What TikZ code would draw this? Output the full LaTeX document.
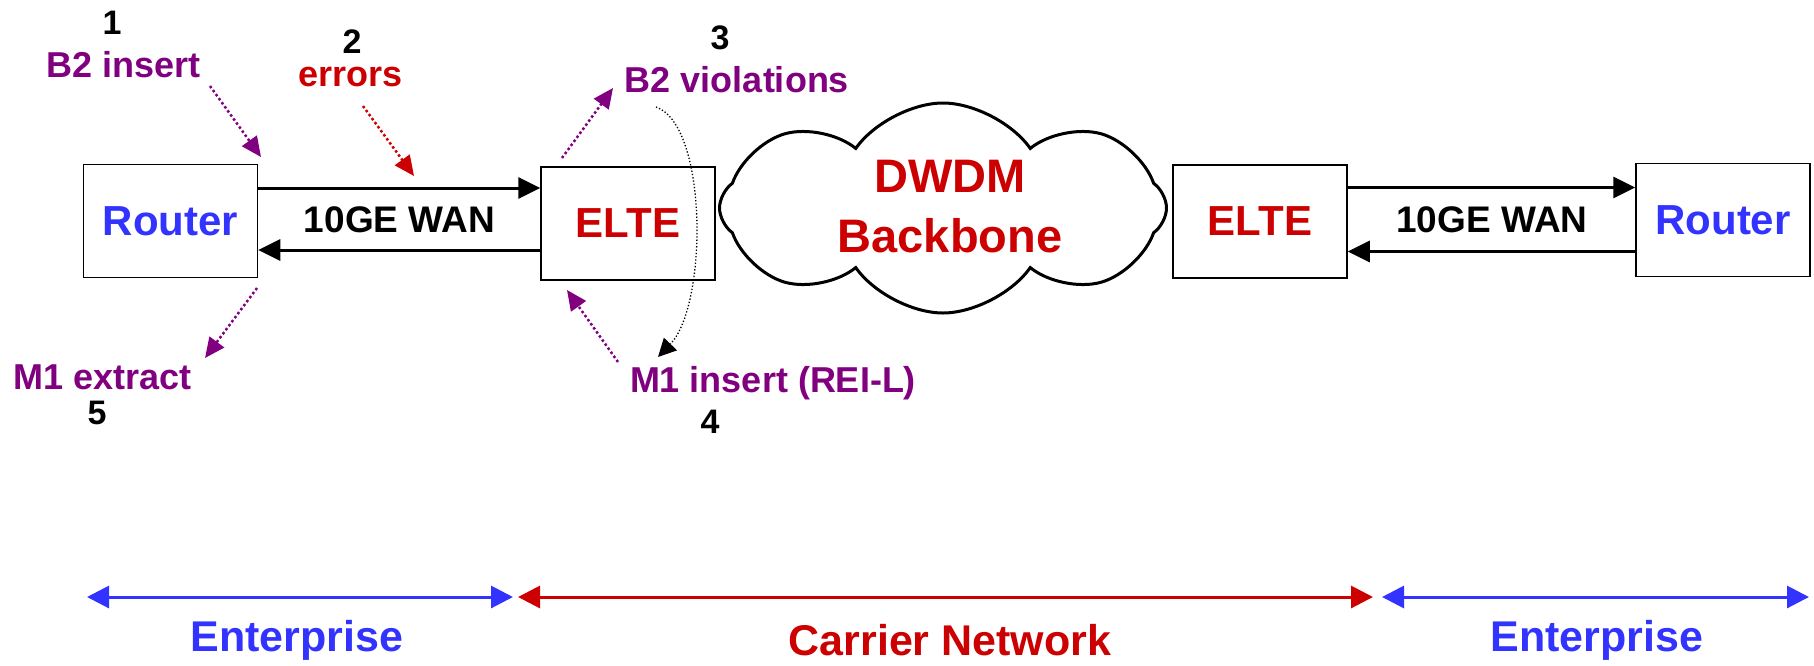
\documentclass[tikz,border=0pt]{standalone}
\usepackage{fontspec}
\setmainfont{Liberation Sans}
\usepackage{xcolor}
\usetikzlibrary{arrows.meta,shapes.symbols}
\definecolor{rtblue}{RGB}{51,51,255}
\definecolor{ltred}{RGB}{204,0,0}
\definecolor{ohpurple}{RGB}{128,0,128}

\begin{document}
\begin{tikzpicture}[x=1pt,y=-1pt,
  box/.style={draw, line width=1.5pt, minimum width=174pt, minimum height=113pt, inner sep=0pt,
    font=\fontsize{42}{48}\selectfont\bfseries},
  link/.style={line width=3pt, -{Triangle[length=22pt,width=21pt]}},
  lbl/.style={font=\fontsize{36}{40}\selectfont\bfseries, text=ohpurple, inner sep=0pt},
  num/.style={font=\fontsize{34}{38}\selectfont\bfseries, inner sep=0pt},
  hint/.style={line width=2.5pt, dash pattern=on 2.5pt off 2.5pt, -{Triangle[length=20pt,width=18pt]}},
  span/.style={line width=3pt, {Triangle[length=22pt,width=22pt]}-{Triangle[length=22pt,width=22pt]}},
  zone/.style={font=\fontsize{43}{48}\selectfont\bfseries, inner sep=0pt}]
    \useasboundingbox (0,0) rectangle (1814,665);

    % Boxes
    \node[box, text=rtblue] (router1) at (170.5,221) {Router};
    \node[box, text=ltred] (elte1) at (628,223.5) {ELTE};
    \node[box, text=ltred] (elte2) at (1260,221.5) {ELTE};
    \node[box, text=rtblue] (router2) at (1723,220) {Router};

    % Cloud
    \node[cloud, draw, line width=3pt, cloud puffs=8, cloud puff arc=110, aspect=2.2,
      minimum width=447pt, minimum height=210pt, inner sep=0pt] (bb) at (943,208) {};
    \node[font=\fontsize{47}{60}\selectfont\bfseries, text=ltred, align=center] (bbtext) at (950,207) {DWDM\\Backbone};

    % 10GE WAN links
    \coordinate (w1t) at ([yshift=33pt]router1.east);
    \coordinate (w1b) at ([yshift=-29pt]router1.east);
    \draw[link] (w1t) -- (w1t -| elte1.west);
    \draw[link] (w1b -| elte1.west) -- (w1b);
    \node[font=\fontsize{37}{40}\selectfont\bfseries] (wan1) at (399.5,220) {10GE WAN};
    \coordinate (w2t) at ([yshift=34pt]elte2.east);
    \coordinate (w2b) at ([yshift=-30pt]elte2.east);
    \draw[link] (w2t) -- (w2t -| router2.west);
    \draw[link] (w2b -| router2.west) -- (w2b);
    \node[font=\fontsize{37}{40}\selectfont\bfseries] (wan2) at (1492,220) {10GE WAN};

    % Steps
    \node[num] (n1) at (112,23) {1};
    \node[lbl] (b2ins) at (124,65) {B2 insert};
    \node[num] (n2) at (352,42) {2};
    \node[lbl, text=ltred] (errs) at (351,77) {errors};
    \node[num] (n3) at (720,38) {3};
    \node[lbl] (b2vio) at (737,80) {B2 violations};
    \node[lbl] (m1ins) at (773,383) {M1 insert (REI-L)};
    \node[num] (n4) at (710,422) {4};
    \node[lbl] (m1ext) at (103,377) {M1 extract};
    \node[num] (n5) at (97,413) {5};

    % Dotted hints
    \coordinate (h1a) at (210,86);  \coordinate (h1b) at (261,157);
    \coordinate (h2a) at (363,106); \coordinate (h2b) at (414,176);
    \coordinate (h3a) at (562,158); \coordinate (h3b) at (613,88);
    \coordinate (h4a) at (618,362); \coordinate (h4b) at (567,290);
    \coordinate (h5a) at (257,288); \coordinate (h5b) at (205,358);
    \draw[hint, ohpurple] (h1a) -- (h1b);
    \draw[hint, ltred] (h2a) -- (h2b);
    \draw[hint, ohpurple] (h3a) -- (h3b);
    \draw[hint, ohpurple] (h4a) -- (h4b);
    \draw[hint, ohpurple] (h5a) -- (h5b);

    % Loop back 3 -> 4
    \coordinate (lp3) at (656,107);
    \coordinate (lp4) at (658,357);
    \draw[line width=1.3pt, dash pattern=on 1.3pt off 2pt, -{Triangle[length=18pt,width=18pt]}]
      (lp3) .. controls (708,125) and (708,305) .. (lp4);

    % Domains
    \coordinate (d0) at (87,597);
    \coordinate (d1) at (513,597);
    \coordinate (d2) at (518,597);
    \coordinate (d3) at (1373,597);
    \coordinate (d4) at (1382,597);
    \coordinate (d5) at (1809,597);
    \draw[span, rtblue] (d0) -- (d1);
    \draw[span, ltred] (d2) -- (d3);
    \draw[span, rtblue] (d4) -- (d5);
    \node[zone, text=rtblue] (ent1) at (297,640) {Enterprise};
    \node[zone, text=ltred] (carrier) at (950,640) {Carrier Network};
    \node[zone, text=rtblue] (ent2) at (1597,640) {Enterprise};

\end{tikzpicture}
\end{document}
